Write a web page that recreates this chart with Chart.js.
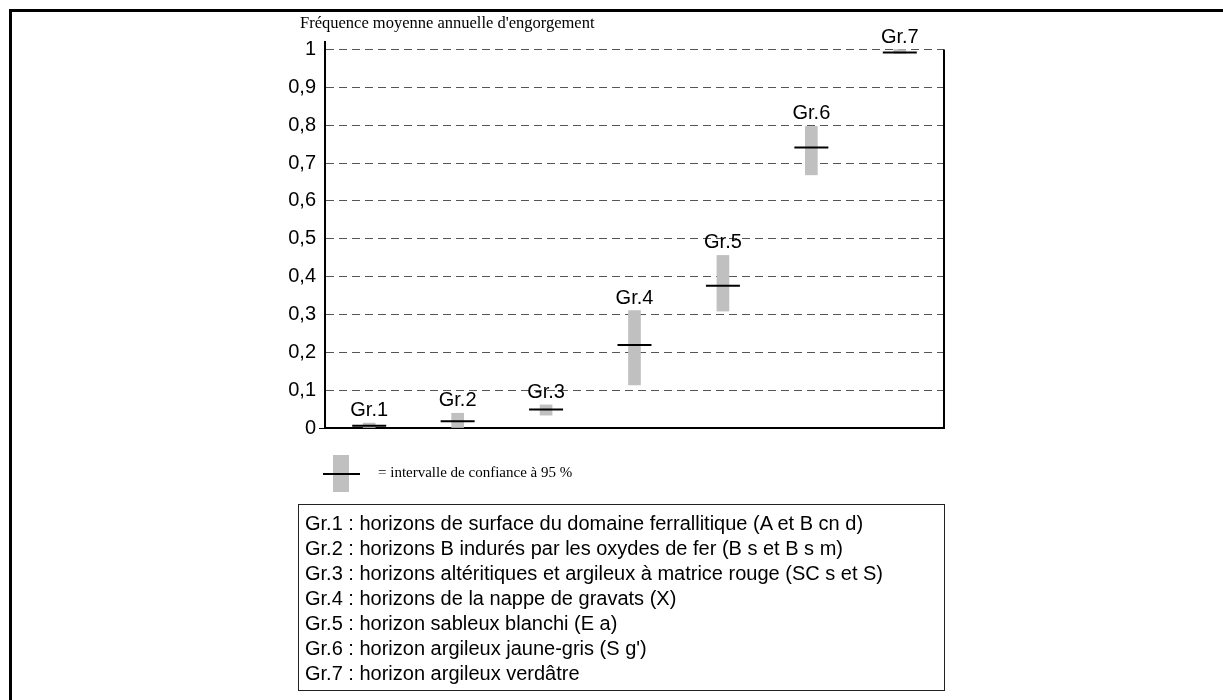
<!DOCTYPE html>
<html>
<head>
<meta charset="utf-8">
<script src="https://cdn.jsdelivr.net/npm/chart.js@4"></script>
<style>
  body { margin: 0; background: #fff; }
  #wrap { position: relative; width: 1223px; height: 700px; overflow: hidden; }
  #frame { position: absolute; left: 9px; top: 9px; width: 1400px; height: 900px; border: 3px solid #000; }
  canvas { position: absolute; left: 0; top: 0; }
  .key-bar { position: absolute; left: 333px; top: 455px; width: 16px; height: 37px; background: #c0c0c0; }
  .key-line { position: absolute; left: 323px; top: 473px; width: 37px; height: 2px; background: #000; }
  .key-text { position: absolute; left: 378px; top: 464px; font: 15px "Liberation Serif", "Times New Roman", serif; }
  .box { position: absolute; left: 298px; top: 504px; width: 639px; padding: 6px 0 4px 6px;
         border: 1px solid #222; font: 20px "Liberation Sans", Arial, sans-serif; line-height: 25px; }
</style>
</head>
<body>
<div id="wrap">
  <div id="frame"></div>
  <canvas id="chart" width="1223" height="700"></canvas>
  <div class="key-bar"></div>
  <div class="key-line"></div>
  <div class="key-text">= intervalle de confiance à 95 %</div>
  <div class="box">
    Gr.1 : horizons de surface du domaine ferrallitique (A et B cn d)<br>
    Gr.2 : horizons B indurés par les oxydes de fer (B s et B s m)<br>
    Gr.3 : horizons altéritiques et argileux à matrice rouge (SC s et S)<br>
    Gr.4 : horizons de la nappe de gravats (X)<br>
    Gr.5 : horizon sableux blanchi (E a)<br>
    Gr.6 : horizon argileux jaune-gris (S g')<br>
    Gr.7 : horizon argileux verdâtre
  </div>
</div>
<script>
const groups = ['Gr.1', 'Gr.2', 'Gr.3', 'Gr.4', 'Gr.5', 'Gr.6', 'Gr.7'];
const means = [0.006, 0.018, 0.049, 0.219, 0.376, 0.741, 0.992];
const ciLow = [0, 0, 0.034, 0.114, 0.309, 0.669, 0.99];
const ciHigh = [0.013, 0.039, 0.061, 0.31, 0.456, 0.797, 1.0];
const yTicks = [0, 0.1, 0.2, 0.3, 0.4, 0.5, 0.6, 0.7, 0.8, 0.9, 1];

const sans = "'Liberation Sans', Arial, sans-serif";

// titre, libellés Gr.x et axe de droite
const extras = {
  id: 'extras',
  afterDatasetsDraw(chart) {
    const ctx = chart.ctx, x = chart.scales.x, y = chart.scales.y, a = chart.chartArea;
    ctx.save();
    ctx.fillStyle = '#000';
    ctx.font = "20px " + sans;
    ctx.textAlign = 'center';
    ctx.textBaseline = 'alphabetic';
    groups.forEach((g, i) => {
      ctx.fillText(g, x.getPixelForValue(i), y.getPixelForValue(ciHigh[i]) - 7);
    });
    ctx.strokeStyle = '#000';
    ctx.lineWidth = 2;
    ctx.beginPath();
    ctx.moveTo(a.right, y.getPixelForValue(1));
    ctx.lineTo(a.right, a.bottom);
    ctx.stroke();
    ctx.font = "16.5px 'Liberation Serif', 'Times New Roman', serif";
    ctx.textAlign = 'left';
    ctx.fillText("Fréquence moyenne annuelle d'engorgement", 300, 28);
    ctx.restore();
  }
};

new Chart(document.getElementById('chart'), {
  data: {
    labels: groups,
    datasets: [{
      type: 'line',
      data: means,
      showLine: false,
      pointStyle: 'line',
      pointRadius: 17,
      pointBorderWidth: 2,
      pointBorderColor: '#000',
      order: 0
    }, {
      type: 'bar',
      data: ciLow.map((v, i) => [v, ciHigh[i]]),
      backgroundColor: '#c0c0c0',
      barThickness: 12,
      order: 1
    }]
  },
  options: {
    responsive: false,
    animation: false,
    layout: { padding: { left: 0, right: 279, top: 42, bottom: 272 } },
    plugins: { legend: { display: false }, tooltip: { enabled: false } },
    scales: {
      x: {
        offset: true,
        grid: { display: false },
        ticks: { display: false },
        border: { color: '#000', width: 2 },
        afterFit(s) { s.height = 0; }
      },
      y: {
        min: 0,
        max: 1.02,
        afterBuildTicks(s) { s.ticks = yTicks.map(v => ({ value: v })); },
        afterFit(s) { s.width = 325; },
        ticks: {
          color: '#000',
          padding: 3,
          font: { family: sans, size: 20 },
          callback: v => String(Math.round(v * 10) / 10).replace('.', ',')
        },
        grid: {
          color: '#555',
          lineWidth: 1,
          drawTicks: true,
          tickLength: 6,
          tickColor: c => c.tick && c.tick.value === 0 ? '#000' : 'rgba(0,0,0,0)',
          tickBorderDash: []
        },
        border: { color: '#000', width: 2, dash: [8, 5], display: true }
      }
    }
  },
  plugins: [extras]
});
</script>
</body>
</html>
